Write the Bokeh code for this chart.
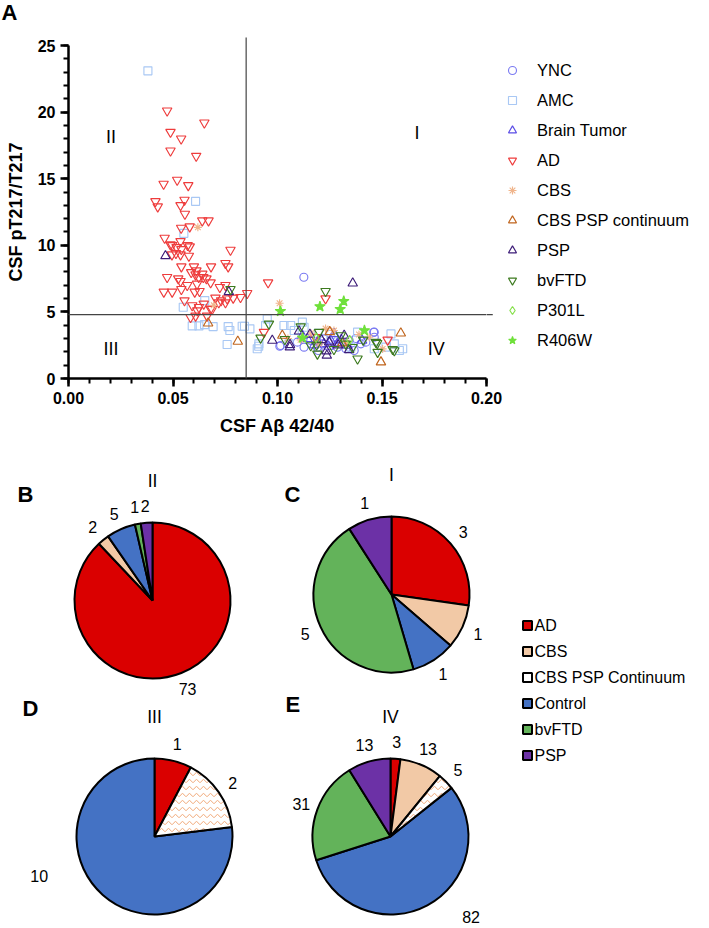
import math
from bokeh.plotting import figure
from bokeh.models import (Legend, LegendItem, Label, NumeralTickFormatter,
                          FixedTicker, Range1d, ColumnDataSource)
from bokeh.embed import file_html
from bokeh.resources import INLINE
from bokeh.core.properties import value

FONT = "Liberation Sans"

# ---------------- scatter data (CSF Abeta 42/40 , pT217/T217) ----------------
ync_x = [0.1126, 0.1015, 0.1127, 0.1303, 0.1327, 0.1367, 0.1423, 0.1463, 0.1463, 0.1271, 0.1191,
         0.1399, 0.1287, 0.1159, 0.1215, 0.1343, 0.1095, 0.1223, 0.1011, 0.1460, 0.1375, 0.1195]
ync_y = [7.6, 2.48, 2.35, 2.73, 2.23, 2.1, 2.73, 3.48, 3.1, 3.1, 2.35,
         2.6, 2.35, 2.85, 2.6, 2.85, 2.73, 2.98, 2.42, 3.47, 3.0, 2.1]

amc_x = [0.0380, 0.0608, 0.0552, 0.0549, 0.0652,
         0.0592, 0.0624, 0.0651, 0.0692, 0.0764, 0.0772, 0.0759, 0.0831, 0.0842,
         0.0868, 0.0910, 0.0951, 0.0943, 0.1031, 0.1063, 0.0911, 0.0903, 0.1119, 0.1127,
         0.1383, 0.1543, 0.1559, 0.1599, 0.1583, 0.1463, 0.1519, 0.1351, 0.1055, 0.1195,
         0.1255, 0.1080]
amc_y = [23.1, 13.3, 10.9, 5.35, 5.85,
         3.95, 3.95, 4.05, 3.9, 3.9, 3.6, 2.55, 3.92, 3.92,
         3.73, 2.42, 4.48, 3.98, 3.98, 3.98, 2.6, 2.23, 4.23, 3.85,
         3.48, 3.35, 2.6, 2.23, 2.1, 2.23, 2.35, 2.35, 2.6, 3.4,
         3.3, 3.6]

tumor_x = [0.1143, 0.1191, 0.1255, 0.1287, 0.1335, 0.1223, 0.1119, 0.1271, 0.1175, 0.1305, 0.1245, 0.1405]
tumor_y = [2.98, 2.73, 2.85, 2.65, 2.48, 2.6, 3.23, 3.35, 2.5, 2.9, 2.4, 2.85]

ad_x = [0.0472, 0.0650, 0.0488, 0.0539, 0.0488, 0.0611, 0.0520, 0.0455, 0.0573, 0.0416,
        0.0427, 0.0555, 0.0536, 0.0557, 0.0640, 0.0670, 0.0539, 0.0580, 0.0460, 0.0536,
        0.0570, 0.0580, 0.0496, 0.0517, 0.0540, 0.0775, 0.0495, 0.0514, 0.0536, 0.0576,
        0.0540, 0.0600, 0.0682, 0.0751, 0.0764, 0.0587, 0.0608, 0.0623, 0.0472, 0.0525,
        0.0536, 0.0568, 0.0540, 0.0615, 0.0645, 0.0660, 0.0680, 0.0724, 0.0751, 0.0456,
        0.0496, 0.0604, 0.0627, 0.0703, 0.0730, 0.0751, 0.0719, 0.0823, 0.0555, 0.0647,
        0.0687, 0.0616, 0.0584, 0.0608, 0.0663, 0.0592, 0.0624, 0.0680, 0.0759, 0.0788,
        0.0488, 0.0612, 0.0640,
        0.0855, 0.0955, 0.1230,
        0.0935, 0.1527, 0.1180]
ad_y = [20.1, 19.2, 18.5, 18.0, 17.1, 16.7, 14.9, 14.6, 14.5, 13.3,
        12.9, 13.4, 13.0, 12.35, 11.85, 11.85, 11.3, 11.4, 10.55, 10.3,
        10.0, 9.9, 10.0, 9.85, 9.7, 9.65, 9.3, 9.4, 9.3, 9.2,
        8.4, 8.4, 8.4, 8.65, 8.4, 7.97, 7.8, 7.6, 7.6, 7.5,
        7.3, 7.0, 6.7, 7.1, 7.6, 7.5, 7.2, 6.85, 7.0, 6.5,
        6.5, 6.5, 6.55, 6.05, 5.85, 5.7, 5.7, 6.1, 5.85, 5.6,
        5.2, 5.1, 4.6, 4.7, 4.7, 5.48, 5.35, 5.23, 6.0, 6.05,
        10.05, 8.1, 7.85,
        6.4, 7.2, 6.0,
        3.48, 2.9, 3.1]

cbs_x = [0.0619, 0.0695, 0.1010, 0.1230, 0.1439, 0.1503, 0.1160, 0.1330, 0.1050, 0.1200, 0.1390, 0.1110, 0.1270]
cbs_y = [11.35, 5.5, 5.65, 3.75, 3.1, 2.22, 3.4, 2.7, 3.0, 2.6, 3.3, 2.9, 3.6]

cpc_x = [0.0668, 0.0810, 0.1023, 0.1250, 0.1590, 0.1495, 0.1310]
cpc_y = [4.15, 2.78, 3.23, 3.5, 3.4, 1.23, 2.65]

psp_x = [0.0464, 0.0767, 0.1360, 0.0975, 0.1060, 0.1103, 0.1236, 0.1319, 0.1343, 0.1247, 0.1059, 0.1234, 0.1155, 0.1290, 0.1210]
psp_y = [9.2, 6.5, 7.15, 2.85, 2.53, 3.55, 1.73, 3.23, 2.15, 2.73, 2.35, 2.05, 3.3, 2.5, 2.9]

bvftd_x = [0.0775, 0.1230, 0.0959, 0.0919, 0.1199, 0.1159, 0.1191, 0.1303, 0.1327, 0.1383, 0.1471,
           0.1479, 0.1559, 0.1551, 0.1111, 0.1359, 0.1187, 0.1477, 0.1035, 0.1270, 0.1410]
bvftd_y = [6.7, 6.55, 4.1, 3.05, 3.48, 2.48, 1.85, 3.23, 2.6, 1.48, 2.73,
           1.98, 2.1, 2.2, 3.9, 2.35, 2.53, 2.65, 2.95, 2.2, 2.9]

p301l_x = [0.1345, 0.1185]
p301l_y = [2.9, 3.05]

r406w_x = [0.1014, 0.1203, 0.1317, 0.1300, 0.1416, 0.1120]
r406w_y = [5.05, 5.4, 5.8, 5.2, 3.6, 3.05]

x_ticks = [0.0, 0.05, 0.10, 0.15, 0.20]
y_ticks = [0, 5, 10, 15, 20, 25]
abeta_cutoff = 0.085
ptau_cutoff = 4.8

# ---------------- pie data ----------------
pie_categories = ["AD", "CBS", "CBS PSP Continuum", "Control", "bvFTD", "PSP"]
quad_II = [73, 2, 0, 5, 1, 2]
quad_I = [3, 1, 0, 1, 5, 1]
quad_III = [1, 0, 2, 10, 0, 0]
quad_IV = [3, 13, 5, 82, 31, 13]

# ---------------- one canvas: scatter frame + pies drawn in canvas-pixel ranges ----------------
CH = 926
BL, BT, FW, FH = 68, 45, 418, 333
BR = 221
BB = CH - BT - FH
p = figure(frame_width=FW, frame_height=FH, x_range=Range1d(0, 0.2), y_range=Range1d(0, 25),
           output_backend="svg", toolbar_location=None,
           min_border_left=BL, min_border_right=BR, min_border_top=BT, min_border_bottom=BB)
# secondary ranges: one unit = one canvas pixel (x from left, y from canvas bottom)
p.extra_x_ranges = {"pix": Range1d(BL, BL + FW)}
p.extra_y_ranges = {"pix": Range1d(CH - BT - FH, CH - BT)}
p.outline_line_color = None
p.grid.visible = False
p.background_fill_color = "white"


def Y(img_y):
    return CH - img_y


p.xaxis.ticker = FixedTicker(ticks=x_ticks, minor_ticks=[i / 100 for i in range(21)])
p.yaxis.ticker = FixedTicker(ticks=y_ticks, minor_ticks=list(range(26)))
p.xaxis.formatter = NumeralTickFormatter(format="0.00")
p.xaxis.axis_label = "CSF Aβ 42/40"
p.yaxis.axis_label = "CSF pT217/T217"
for ax in [p.xaxis[0], p.yaxis[0]]:
    ax.axis_line_width = 2.5
    ax.axis_line_color = "black"
    ax.major_tick_line_width = 2.5
    ax.minor_tick_line_width = 2
    ax.major_tick_out = 8
    ax.major_tick_in = 0
    ax.minor_tick_out = 5
    ax.minor_tick_in = 0
    ax.major_label_text_font = FONT
    ax.major_label_text_font_size = "16px"
    ax.major_label_text_font_style = "bold"
    ax.major_label_text_color = "black"
    ax.major_label_standoff = 5
    ax.axis_label_text_font = FONT
    ax.axis_label_text_font_size = "18px"
    ax.axis_label_text_font_style = "bold"
    ax.axis_label_text_color = "black"
    ax.axis_label_standoff = 9

# threshold lines (slightly overshooting the plot area, as in the original)
p.segment(x0=[abeta_cutoff], y0=[0], x1=[abeta_cutoff], y1=[25.6],
          line_color="#444444", line_width=1.2, level="overlay")
p.segment(x0=[0], y0=[ptau_cutoff], x1=[0.203], y1=[ptau_cutoff],
          line_color="#444444", line_width=1.2, level="overlay")

series = [
    ("YNC", ync_x, ync_y, "circle", "#7b7bf2", False, 8),
    ("AMC", amc_x, amc_y, "square", "#a9c8f4", False, 8),
    ("Brain Tumor", tumor_x, tumor_y, "triangle", "#5a4ce6", False, 9.5),
    ("AD", ad_x, ad_y, "inverted_triangle", "#ee3c3c", False, 9.5),
    ("CBS", cbs_x, cbs_y, "asterisk", "#f0b58c", False, 8),
    ("CBS PSP continuum", cpc_x, cpc_y, "triangle", "#c0641c", False, 9.5),
    ("PSP", psp_x, psp_y, "triangle", "#3d1c78", False, 9.5),
    ("bvFTD", bvftd_x, bvftd_y, "inverted_triangle", "#3c7a1e", False, 9.5),
    ("P301L", p301l_x, p301l_y, "diamond", "#86e04a", False, 9),
    ("R406W", r406w_x, r406w_y, "star", "#6fe03a", True, 11),
]
items = []
for name, xs, ys, mk, col, filled, sz in series:
    r = p.scatter(xs, ys, marker=mk, size=sz, line_color=col, line_width=1.15,
                  fill_color=col if filled else None, fill_alpha=1.0)
    items.append(LegendItem(label=name, renderers=[r]))

legend = Legend(items=items, location="top_left", glyph_width=22, glyph_height=20,
                label_height=20, spacing=10, padding=14, margin=0, label_standoff=14,
                label_text_font=FONT, label_text_font_size="16.5px", label_text_color="black",
                border_line_color="white", border_line_width=1, background_fill_alpha=0)
p.add_layout(legend, "right")

quad_labels = [("II", 0.0203, 18.15), ("I", 0.1668, 18.4), ("III", 0.0203, 2.2), ("IV", 0.176, 2.2)]
for txt, qx, qy in quad_labels:
    p.add_layout(Label(x=qx, y=qy, text=txt, text_align="center", text_baseline="middle",
                       text_font=FONT, text_font_size="18px", text_color="black"))

PIX = dict(x_range_name="pix", y_range_name="pix", level="overlay")
p.text(x=[1], y=[Y(12)], text=["A"], text_align="left", text_baseline="middle",
       text_font=value(FONT), text_font_size="22px", text_font_style="bold",
       text_color="black", **PIX)

# ---------------- pies (layout in page pixels) ----------------
pie_colors = ["#da0000", "#f2c9a6", "white", "#4472c4", "#63b35a", "#6c31a6"]
R = 78
pies = [
    ("II", quad_II, (152, 600), "B", (17, 494)),
    ("I", quad_I, (391, 594), "C", (284, 494)),
    ("III", quad_III, (154, 836), "D", (22, 708)),
    ("IV", quad_IV, (390, 836), "E", (285, 704)),
]
label_override = {("IV", "Control"): (135, 114), ("III", "Control"): (251, 122)}

for title, counts, (cxi, cyi), letter, (lx, ly) in pies:
    cx, cy = cxi, Y(cyi)
    total = sum(counts)
    cum = 0
    d = dict(x=[], y=[], s=[], e=[], c=[])
    hatch = dict(x=[], y=[], s=[], e=[], c=[])
    lab = dict(x=[], y=[], t=[])
    for cat, n, col in zip(pie_categories, counts, pie_colors):
        if n == 0:
            continue
        a0 = cum / total * 2 * math.pi
        a1 = (cum + n) / total * 2 * math.pi
        cum += n
        tgt = hatch if cat == "CBS PSP Continuum" else d
        tgt["x"].append(cx); tgt["y"].append(cy)
        tgt["s"].append(math.pi / 2 - a0); tgt["e"].append(math.pi / 2 - a1)
        tgt["c"].append(col)
        if (title, cat) in label_override:
            th_deg, rr = label_override[(title, cat)]
            th = math.radians(th_deg)
        else:
            th = (a0 + a1) / 2
            rr = R + 17
        lab["x"].append(cx + rr * math.sin(th))
        lab["y"].append(cy + rr * math.cos(th))
        lab["t"].append(str(n))
    p.wedge(x="x", y="y", radius=R, radius_units="screen", start_angle="s", end_angle="e",
            direction="clock", fill_color="c", line_color="black", line_width=2,
            source=ColumnDataSource(d), **PIX)
    if hatch["x"]:
        p.wedge(x="x", y="y", radius=R, radius_units="screen", start_angle="s", end_angle="e",
                direction="clock", fill_color="white", line_color="black", line_width=2,
                hatch_pattern="horizontal_wave", hatch_color="#f0a878", hatch_scale=7,
                hatch_weight=1, source=ColumnDataSource(hatch), **PIX)
    p.text(x="x", y="y", text="t", source=ColumnDataSource(lab), text_align="center",
           text_baseline="middle", text_font=value(FONT), text_font_size="16px",
           text_color="black", **PIX)
    p.text(x=[cx], y=[cy + 120], text=[title], text_align="center", text_baseline="middle",
           text_font=value(FONT), text_font_size="17.5px", text_color="black", **PIX)
    p.text(x=[lx], y=[Y(ly)], text=[letter], text_align="left", text_baseline="middle",
           text_font=value(FONT), text_font_size="22px", text_font_style="bold",
           text_color="black", **PIX)

# pie legend
leg_x, leg_y0, leg_step, half = 527, 625, 26, 4.5
for i, (cat, col) in enumerate(zip(pie_categories, pie_colors)):
    yy = Y(leg_y0 + i * leg_step)
    p.quad(left=[leg_x - half], right=[leg_x + half], bottom=[yy - half], top=[yy + half],
           fill_color=col, line_color="black", line_width=2, **PIX)
    p.text(x=[leg_x + 7], y=[yy], text=[cat], text_align="left", text_baseline="middle",
           text_font=value(FONT), text_font_size="16px", text_color="black", **PIX)

open("out.html", "w").write(file_html(p, INLINE))
